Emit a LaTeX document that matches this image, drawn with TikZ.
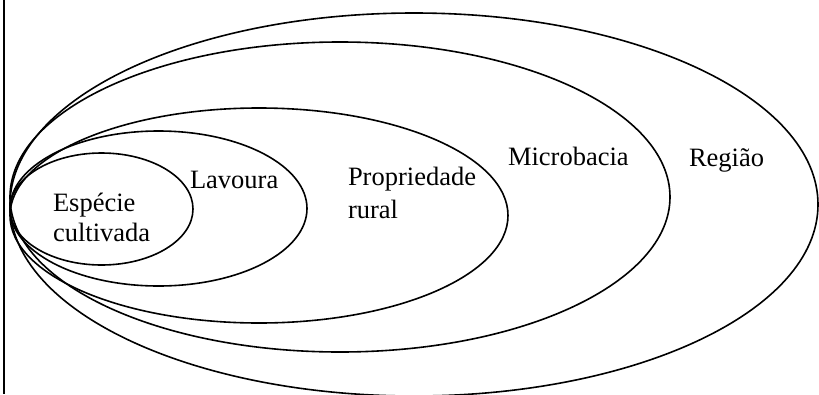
\documentclass[tikz,border=0pt]{standalone}
\usepackage{fontspec}
\setmainfont{Liberation Serif}
\begin{document}
\begin{tikzpicture}[x=1pt,y=-1pt,
  ring/.style={draw=black,line width=1.6pt},
  lbl/.style={anchor=base west,inner sep=0pt,outer sep=0pt,font=\fontsize{26.5}{33}\selectfont,align=left}]
\useasboundingbox (0,0) rectangle (819,394);
\draw[line width=2.2pt] (4,0) -- (4,394);
% ellipses
\draw[ring] (414,204.5) ellipse [x radius=404pt, y radius=191.5pt];
\draw[ring] (340,197) ellipse [x radius=330pt, y radius=155pt];
\draw[ring] (259,215.5) ellipse [x radius=249pt, y radius=107.5pt];
\draw[ring] (158.5,208.5) ellipse [x radius=148.5pt, y radius=77.5pt];
\draw[ring] (101.5,209) ellipse [x radius=91.5pt, y radius=56pt];
% labels
\node[lbl] (esp) at (53,211) {Espécie};
\node[lbl] (cul) at (53,241) {cultivada};
\node[lbl] (lav) at (190,188) {Lavoura};
\node[lbl] (pro) at (348,185) {Propriedade};
\node[lbl] (rur) at (348,218) {rural};
\node[lbl] (mic) at (508,165) {Microbacia};
\node[lbl] (reg) at (689,166) {Região};
\end{tikzpicture}
\end{document}
